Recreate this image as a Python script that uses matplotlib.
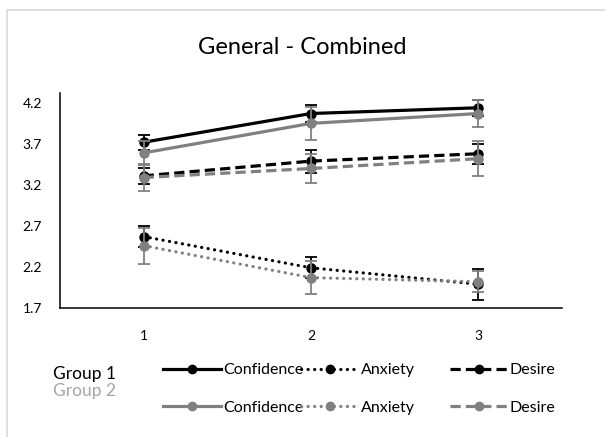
import matplotlib
matplotlib.use("Agg")
import matplotlib.pyplot as plt
from matplotlib.lines import Line2D
from matplotlib.patches import Rectangle

plt.rcParams['font.family'] = ['Lato', 'DejaVu Sans']

# time points
times = [1, 2, 3]

# Group 1 means and error bars
g1_confidence = [3.72, 4.07, 4.14]
g1_confidence_err = [0.09, 0.10, 0.10]
g1_anxiety = [2.57, 2.19, 1.99]
g1_anxiety_err = [0.13, 0.13, 0.19]
g1_desire = [3.31, 3.49, 3.58]
g1_desire_err = [0.10, 0.14, 0.12]

# Group 2 means and error bars
g2_confidence = [3.59, 3.95, 4.07]
g2_confidence_err = [0.15, 0.20, 0.17]
g2_anxiety = [2.46, 2.07, 2.02]
g2_anxiety_err = [0.22, 0.20, 0.13]
g2_desire = [3.29, 3.40, 3.52]
g2_desire_err = [0.17, 0.18, 0.21]

y_ticks = [1.7, 2.2, 2.7, 3.2, 3.7, 4.2]
measure_names = ["Confidence", "Anxiety", "Desire"]
group_names = ["Group 1", "Group 2"]

black = "#000000"
grey = "#808080"
dash_styles = {
    "Confidence": "-",
    "Anxiety": (0, (0.05, 2.0)),
    "Desire": (0, (3.2, 1.6)),
}

fig = plt.figure(figsize=(6.05, 4.37), dpi=100)
ax = fig.add_axes([60 / 605, 1 - 308 / 437, (562 - 60) / 605, (308 - 93) / 437])

# outer chart border
fig.patches.append(Rectangle((6.5 / 605, -0.05), 1.1, 1 - 9.5 / 437 + 0.05,
                             transform=fig.transFigure, fill=False,
                             edgecolor="#d9d9d9", lw=1.2))

series = [
    (g1_confidence, g1_confidence_err, "Confidence", black),
    (g1_anxiety, g1_anxiety_err, "Anxiety", black),
    (g1_desire, g1_desire_err, "Desire", black),
    (g2_confidence, g2_confidence_err, "Confidence", grey),
    (g2_anxiety, g2_anxiety_err, "Anxiety", grey),
    (g2_desire, g2_desire_err, "Desire", grey),
]

for vals, errs, name, col in series:
    ax.errorbar(times, vals, yerr=errs, fmt="none", ecolor=col, elinewidth=1.3,
                capsize=4.3, capthick=1.3)
    ax.plot(times, vals, color=col, lw=2.3, linestyle=dash_styles[name],
            dash_capstyle="round" if name == "Anxiety" else "butt",
            marker="o", markersize=6.5, markeredgecolor=col, markerfacecolor=col)

ax.set_xlim(0.5, 3.5)
ax.set_ylim(1.7, 4.32)
ax.set_xticks(times)
ax.set_yticks(y_ticks)
ax.set_yticklabels([f"{t:.1f}" for t in y_ticks])
ax.tick_params(length=0, labelsize=10, colors="#000000")
ax.tick_params(axis="y", pad=13)
ax.tick_params(axis="x", pad=16)
for s in ["top", "right"]:
    ax.spines[s].set_visible(False)
for s in ["left", "bottom"]:
    ax.spines[s].set_linewidth(1.1)
    ax.spines[s].set_color("#000000")

fig.text(0.5, 1 - 47 / 437, "General - Combined", ha="center", va="center",
         fontsize=17)

# group labels
fig.text(53 / 605, 1 - 374 / 437, group_names[0], ha="left", va="center",
         fontsize=12.5, color=black)
fig.text(53 / 605, 1 - 391 / 437, group_names[1], ha="left", va="center",
         fontsize=12.5, color="#a6a6a6")

# legend, one column per measure
col_x = [163 / 605, 301 / 605, 450 / 605]
for name, x0 in zip(measure_names, col_x):
    handles = []
    for col in [black, grey]:
        handles.append(Line2D([], [], color=col, lw=2.3, linestyle=dash_styles[name],
                              dash_capstyle="round" if name == "Anxiety" else "butt",
                              marker="o", markersize=6, markeredgecolor=col,
                              markerfacecolor=col))
    leg = fig.legend(handles, [name, name], loc="upper left",
                     bbox_to_anchor=(x0, 1 - 363 / 437), frameon=False,
                     fontsize=11.5, handlelength=3.6, handletextpad=0.15,
                     labelspacing=1.45, borderaxespad=0, borderpad=0)

fig.savefig("out.png", dpi=100)
